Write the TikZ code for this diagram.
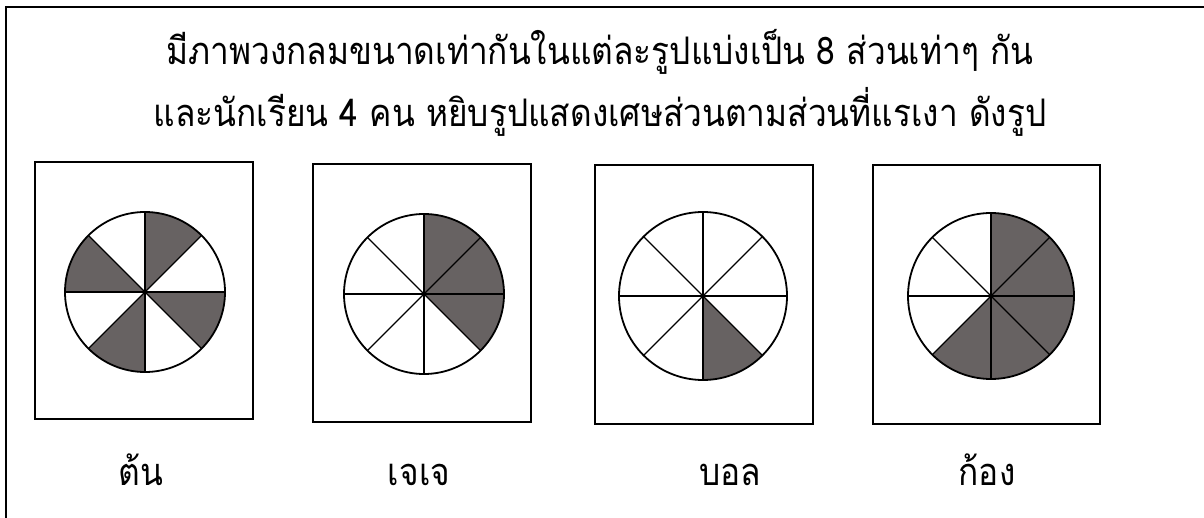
\documentclass[tikz,border=0pt]{standalone}
\usepackage{fontspec}
\newfontfamily\thaifont[Script=Thai,FakeStretch=0.88]{Loma}
\definecolor{slicegray}{RGB}{103,98,98}
\tikzset{
  card/.style={line width=2.4pt},
  wheel/.style={line width=1.8pt},
  spoke/.style={line width=1.2pt},
  caption/.style={font=\thaifont\fontsize{38}{44}\selectfont, anchor=base},
}
\begin{document}
\begin{tikzpicture}[x=1pt,y=-1pt]
  \useasboundingbox (0,0) rectangle (1204,518);
  % outer frame, top and left only
  \draw[line width=2pt] (1204,7) -- (6,7) -- (6,518);
  \node[caption] (line1) at (600,65) {มีภาพวงกลมขนาดเท่ากันในแต่ละรูปแบ่งเป็น 8 ส่วนเท่าๆ กัน};
  \node[caption] (line2) at (600,127) {และนักเรียน 4 คน หยิบรูปแสดงเศษส่วนตามส่วนที่แรเงา ดังรูป};
  % cards with the circles
  \foreach \xa/\ya/\xb/\yb/\cx/\cy/\r/\shaded in {
      35/162/253/419/145/292/80/{45,135,225,315},
      313/164/531/422/424/294/80/{315,0,45},
      595/165/813/424/703/296/84/{270},
      873/165/1100/424/991/296/83/{225,270,315,0,45}}{
    \draw[card] (\xa,\ya) rectangle (\xb,\yb);
    \foreach \a in \shaded
      \fill[slicegray] (\cx,\cy) -- ++(-\a:\r) arc[start angle=-\a, end angle=-\a-45, radius=\r] -- cycle;
    \foreach \a in {0,45,...,315}
      \draw[spoke] (\cx,\cy) -- ++(\a:\r);
    \draw[wheel] (\cx,\cy) circle[radius=\r];
  }
  \node[caption] (ton) at (141,485) {ต้น};
  \node[caption] (jeje) at (419,485) {เจเจ};
  \node[caption] (bon) at (730,485) {บอล};
  \node[caption] (kong) at (987,485) {ก้อง};
\end{tikzpicture}
\end{document}
